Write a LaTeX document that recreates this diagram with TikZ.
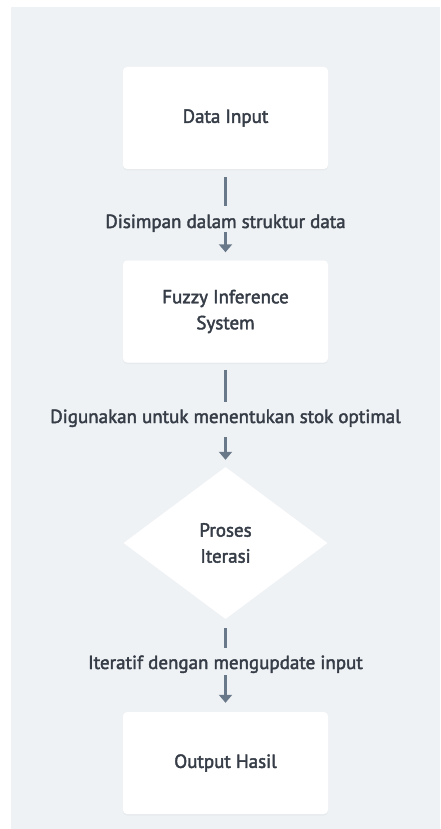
\documentclass[tikz,border=0pt]{standalone}
\usepackage{fontspec}
\setmainfont{PT Sans}
\newfontfamily\dgfont{PT Sans}[FakeBold=2.2]
\usetikzlibrary{arrows.meta,shapes.geometric,shadows}
\definecolor{pagebg}{HTML}{EFF2F5}
\definecolor{txt}{HTML}{363D47}
\definecolor{conn}{HTML}{6A7989}
\tikzset{
  boxnode/.style={rectangle, rounded corners=4pt, fill=white, minimum width=205pt, minimum height=102pt,
    text=txt, font=\dgfont\fontsize{19}{26}\selectfont, align=center, inner sep=0pt,
    drop shadow={opacity=0.06, shadow xshift=0pt, shadow yshift=-1.5pt}},
  decnode/.style={diamond, fill=white, minimum width=204pt, minimum height=152pt, inner sep=0pt,
    text=txt, font=\dgfont\fontsize{19}{26}\selectfont, align=center},
  lbl/.style={text=txt, font=\dgfont\fontsize{19}{26}\selectfont, inner sep=0pt, anchor=base},
  seg/.style={draw=conn, line width=3.5pt},
  arr/.style={draw=conn, line width=3.5pt, -{Triangle[width=13pt,length=8pt]}},
}
\begin{document}
\begin{tikzpicture}[x=1pt,y=-1pt]
\useasboundingbox (0,0) rectangle (440,829);
\fill[pagebg] (11,7) rectangle (440,829);

\node[boxnode] (din) at (225.5,118) {Data Input};
\node[boxnode] (fis) at (225.5,311.5) {Fuzzy Inference\\System};
\node[decnode] (it) at (225.5,543) {Proses\\Iterasi};
\node[boxnode] (out) at (225.5,763) {Output Hasil};

\node[lbl] (l1) at (225.5,228) {Disimpan dalam struktur data};
\node[lbl] (l2) at (225.5,423) {Digunakan untuk menentukan stok optimal};
\node[lbl] (l3) at (225.5,669) {Iteratif dengan mengupdate input};

\coordinate (g1a) at (225.5,206);
\coordinate (g1b) at (225.5,232);
\coordinate (g2a) at (225.5,402);
\coordinate (g2b) at (225.5,437);
\coordinate (g3a) at (225.5,648);
\coordinate (g3b) at (225.5,675);

\draw[seg, shorten <=8pt] (din) -- (g1a);
\draw[arr, shorten >=8pt] (g1b) -- (fis);
\draw[seg, shorten <=7pt] (fis) -- (g2a);
\draw[arr, shorten >=7pt] (g2b) -- (it);
\draw[seg, shorten <=9pt] (it) -- (g3a);
\draw[arr, shorten >=9pt] (g3b) -- (out);
\end{tikzpicture}
\end{document}
